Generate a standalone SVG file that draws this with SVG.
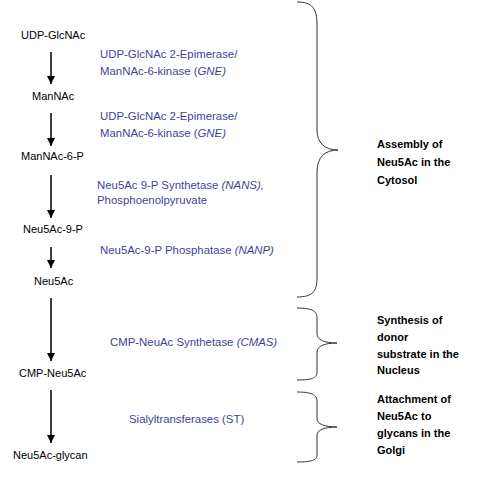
<svg xmlns="http://www.w3.org/2000/svg" width="482" height="479" viewBox="0 0 482 479">
<style>
.lbl{font-family:"Liberation Sans",Arial,sans-serif;font-size:11px;fill:#000}
.enz{font-family:"Liberation Sans",Arial,sans-serif;font-size:11.4px;fill:#3f3f9c}
.loc{font-family:"Liberation Sans",Arial,sans-serif;font-size:11px;font-weight:bold;fill:#000}
.arr{stroke:#000;stroke-width:1.5;fill:none;marker-end:url(#ah)}
.brace{stroke:#333;stroke-width:1;fill:none}
</style>
<defs>
<marker id="ah" markerWidth="8" markerHeight="8" viewBox="0 0 8 8" refX="8" refY="4" orient="auto" markerUnits="userSpaceOnUse">
<path d="M0,0 L8,4 L0,8 Z" fill="#000"/>
</marker>
</defs>
<rect width="482" height="479" fill="#fff"/>
<g id="connectors">
<line class="arr" x1="51" y1="52" x2="51" y2="84"/>
<line class="arr" x1="51" y1="113" x2="51" y2="146"/>
<line class="arr" x1="51" y1="175" x2="51" y2="218"/>
<line class="arr" x1="51" y1="247" x2="51" y2="268"/>
<line class="arr" x1="51" y1="298" x2="51" y2="361"/>
<line class="arr" x1="51" y1="390" x2="51" y2="443"/>
</g>
<g id="n-udpglcnac"><text class="lbl" x="21" y="39">UDP-GlcNAc</text></g>
<g id="n-mannac"><text class="lbl" x="32" y="100">ManNAc</text></g>
<g id="n-mannac6p"><text class="lbl" x="21" y="160">ManNAc-6-P</text></g>
<g id="n-neu5ac9p"><text class="lbl" x="23" y="233">Neu5Ac-9-P</text></g>
<g id="n-neu5ac"><text class="lbl" x="34" y="285">Neu5Ac</text></g>
<g id="n-cmpneu5ac"><text class="lbl" x="19" y="377">CMP-Neu5Ac</text></g>
<g id="n-neu5acglycan"><text class="lbl" x="13" y="459">Neu5Ac-glycan</text></g>
<g id="e-gne1">
<text class="enz" x="100" y="58">UDP-GlcNAc 2-Epimerase/</text>
<text class="enz" x="100" y="75">ManNAc-6-kinase (<tspan font-style="italic">GNE)</tspan></text>
</g>
<g id="e-gne2">
<text class="enz" x="100" y="120">UDP-GlcNAc 2-Epimerase/</text>
<text class="enz" x="100" y="137">ManNAc-6-kinase (<tspan font-style="italic">GNE)</tspan></text>
</g>
<g id="e-nans">
<text class="enz" x="97" y="189">Neu5Ac 9-P Synthetase <tspan font-style="italic">(NANS),</tspan></text>
<text class="enz" x="97" y="204">Phosphoenolpyruvate</text>
</g>
<g id="e-nanp"><text class="enz" x="100" y="254">Neu5Ac-9-P Phosphatase <tspan font-style="italic">(NANP)</tspan></text></g>
<g id="e-cmas"><text class="enz" x="110" y="346">CMP-NeuAc Synthetase <tspan font-style="italic">(CMAS)</tspan></text></g>
<g id="e-st"><text class="enz" x="129" y="423">Sialyltransferases (ST)</text></g>
<g id="brace-cytosol">
<path class="brace" d="M297,2 C312,2 317,8 317,25 L317,130 C317,143 325,150 338,150 C325,150 317,157 317,172 L317,278 C317,292 312,297 297,297"/>
<text class="loc" x="377" y="148">Assembly of</text>
<text class="loc" x="377" y="166">Neu5Ac in the</text>
<text class="loc" x="377" y="184">Cytosol</text>
</g>
<g id="brace-nucleus">
<path class="brace" d="M297,308 C312,308 317,311 317,318 L317,334 C317,340 325,343 337,343 C325,343 317,346 317,352 L317,372 C317,378 312,380 297,380"/>
<text class="loc" x="377" y="324">Synthesis of</text>
<text class="loc" x="377" y="341">donor</text>
<text class="loc" x="377" y="358">substrate in the</text>
<text class="loc" x="377" y="374">Nucleus</text>
</g>
<g id="brace-golgi">
<path class="brace" d="M297,392 C312,392 317,395 317,401 L317,419 C317,424 325,427 337,427 C325,427 317,430 317,435 L317,455 C317,460 312,462 297,462"/>
<text class="loc" x="377" y="403">Attachment of</text>
<text class="loc" x="377" y="420">Neu5Ac to</text>
<text class="loc" x="377" y="437">glycans in the</text>
<text class="loc" x="377" y="454">Golgi</text>
</g>
</svg>
